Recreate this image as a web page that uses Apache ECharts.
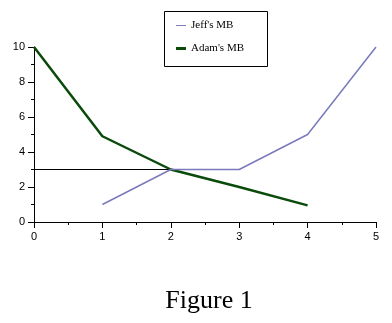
<!DOCTYPE html>
<html>
<head>
<meta charset="utf-8">
<script src="https://cdn.jsdelivr.net/npm/echarts@6/dist/echarts.min.js"></script>
<style>html,body{margin:0;padding:0;background:#fff}#c{width:392px;height:323px}</style>
</head>
<body>
<div id="c"></div>
<script>
const xJeff = [1, 2, 3, 4, 5];
const jeffMB = [1, 3, 3, 5, 10];
const xAdam = [0, 1, 2, 3, 4];
const adamMB = [10, 4.9, 3, 2, 0.95];
const refX = [0, 2];
const refY = [3, 3];
const xTicks = [0, 1, 2, 3, 4, 5];
const yTicks = [0, 2, 4, 6, 8, 10];
const seriesNames = ["Jeff's MB", "Adam's MB"];
const titleText = 'Figure 1';

const chart = echarts.init(document.getElementById('c'), null, {renderer: 'canvas'});
const pairs = (xs, ys) => xs.map((x, i) => [x, ys[i]]);
chart.setOption({
  animation: false,
  backgroundColor: '#fff',
  title: {
    text: titleText, left: 204, top: 283, textAlign: 'center',
    textStyle: {fontFamily: 'Liberation Serif', fontSize: 26, fontWeight: 'normal', color: '#000'}
  },
  graphic: [{
    type: 'rect', shape: {x: 164.5, y: 11.5, width: 103, height: 55},
    style: {fill: 'none', stroke: '#000', lineWidth: 1}, z: 100
  }],
  legend: {
    data: [
      {name: seriesNames[0], icon: 'path://M0,0L10,0M0,4.4H10V5.6H0ZM0,10L10,10'},
      {name: seriesNames[1], icon: 'path://M0,0L10,0M0,3.5H10V6.5H0ZM0,10L10,10'}
    ],
    orient: 'vertical', left: 164, top: 11,
    padding: [9, 20, 14, 12], itemGap: 12, itemWidth: 10, itemHeight: 10,
    itemStyle: {borderWidth: 0},
    textStyle: {fontFamily: 'Liberation Serif', fontSize: 11, color: '#000'}
  },
  grid: {left: 34, right: 16, top: 47, bottom: 101, containLabel: false},
  xAxis: {
    type: 'value', min: xTicks[0], max: xTicks[xTicks.length - 1], interval: 1,
    axisLine: {lineStyle: {color: '#000', width: 1}},
    axisTick: {show: true, length: 6, lineStyle: {color: '#000'}},
    minorTick: {show: true, splitNumber: 2, length: 3, lineStyle: {color: '#000'}},
    splitLine: {show: false},
    axisLabel: {fontFamily: 'Liberation Sans', fontSize: 11, color: '#000', margin: 9}
  },
  yAxis: {
    type: 'value', min: yTicks[0], max: yTicks[yTicks.length - 1], interval: 2,
    axisLine: {show: true, lineStyle: {color: '#000', width: 1}},
    axisTick: {show: true, length: 6, lineStyle: {color: '#000'}},
    minorTick: {show: true, splitNumber: 2, length: 3, lineStyle: {color: '#000'}},
    splitLine: {show: false},
    axisLabel: {fontFamily: 'Liberation Sans', fontSize: 11, color: '#000', margin: 9}
  },
  series: [
    {name: 'ref', type: 'line', data: pairs(refX, refY), symbol: 'none',
     lineStyle: {color: '#000', width: 1}, itemStyle: {color: '#000'}, z: 1},
    {name: seriesNames[0], type: 'line', data: pairs(xJeff, jeffMB), symbol: 'none',
     lineStyle: {color: '#7a7abc', width: 1.5}, itemStyle: {color: '#7a7abc'}, z: 3},
    {name: seriesNames[1], type: 'line', data: pairs(xAdam, adamMB), symbol: 'none',
     lineStyle: {color: '#0a4a0a', width: 2.5}, itemStyle: {color: '#0a4a0a'}, z: 2}
  ]
});
</script>
</body>
</html>
